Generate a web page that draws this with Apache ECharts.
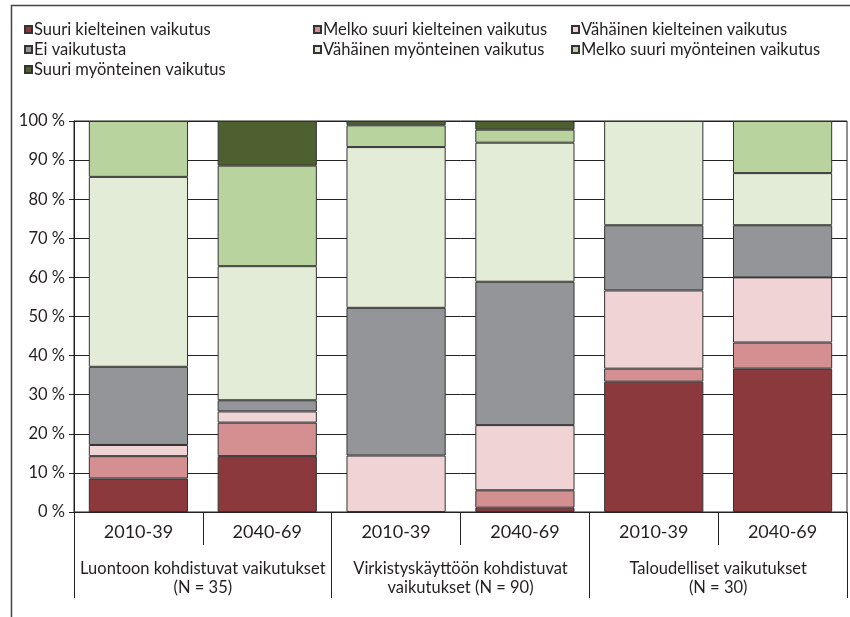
<!DOCTYPE html>
<html>
<head>
<meta charset="utf-8">
<script src="https://cdn.jsdelivr.net/npm/echarts@6/dist/echarts.min.js"></script>
<style>
  html, body { margin: 0; padding: 0; background: #fff; }
  #chart { width: 850px; height: 617px; }
</style>
</head>
<body>
<div id="chart"></div>
<script>
// periods per bar, and the three impact groups underneath
const periods = ['2010-39', '2040-69', '2010-39', '2040-69', '2010-39', '2040-69'];
const groups = [
    'Luontoon kohdistuvat vaikutukset\n(N = 35)',
    'Virkistyskäyttöön kohdistuvat\nvaikutukset (N = 90)',
    'Taloudelliset vaikutukset\n(N = 30)'
];
const yTicks = [0, 10, 20, 30, 40, 50, 60, 70, 80, 90, 100];

// shares in percent
const suuriKielteinen = [8.57, 14.29, 0, 1.11, 33.33, 36.67];
const melkoKielteinen = [5.71, 8.57, 0, 4.44, 3.33, 6.67];
const vahainenKielteinen = [2.86, 2.86, 14.44, 16.67, 20.0, 16.67];
const eiVaikutusta = [20.0, 2.86, 37.78, 36.67, 16.67, 13.33];
const vahainenMyonteinen = [48.57, 34.29, 41.11, 35.56, 26.67, 13.33];
const melkoMyonteinen = [14.29, 25.71, 5.56, 3.33, 0, 13.33];
const suuriMyonteinen = [0, 11.42, 1.11, 2.22, 0, 0];

const seriesDefs = [
    {name: 'Suuri kielteinen vaikutus', data: suuriKielteinen, color: '#8c393e'},
    {name: 'Melko suuri kielteinen vaikutus', data: melkoKielteinen, color: '#d48f90'},
    {name: 'Vähäinen kielteinen vaikutus', data: vahainenKielteinen, color: '#f0d3d4'},
    {name: 'Ei vaikutusta', data: eiVaikutusta, color: '#939598'},
    {name: 'Vähäinen myönteinen vaikutus', data: vahainenMyonteinen, color: '#e3ecd7'},
    {name: 'Melko suuri myönteinen vaikutus', data: melkoMyonteinen, color: '#b8d39d'},
    {name: 'Suuri myönteinen vaikutus', data: suuriMyonteinen, color: '#4e6030'}
];

const font = 'Lato, "Open Sans", sans-serif';
const ink = '#231f20';

const legendBase = {
    orient: 'vertical',
    top: 16,
    itemWidth: 7,
    itemHeight: 7,
    itemGap: 3,
    icon: 'rect',
    selectedMode: false,
    textStyle: {fontFamily: font, fontSize: 16.5, color: ink, lineHeight: 16, padding: [0, 0, 0, -3]}
};

const chart = echarts.init(document.getElementById('chart'));
chart.setOption({
    animation: false,
    textStyle: {fontFamily: font},
    graphic: [{
        type: 'rect',
        shape: {x: 11.5, y: 5.5, width: 900, height: 700},
        style: {fill: 'none', stroke: '#444', lineWidth: 1.5},
        silent: true
    }],
    legend: [
        Object.assign({}, legendBase, {left: 19, data: [seriesDefs[0].name, seriesDefs[3].name, seriesDefs[6].name]}),
        Object.assign({}, legendBase, {left: 308, data: [seriesDefs[1].name, seriesDefs[4].name]}),
        Object.assign({}, legendBase, {left: 566, data: [seriesDefs[2].name, seriesDefs[5].name]})
    ],
    grid: {
        left: 74, right: 3, top: 121, bottom: 105,
        show: true, borderColor: '#222', borderWidth: 1
    },
    xAxis: [{
        type: 'category',
        data: periods,
        axisLine: {lineStyle: {color: '#222', width: 1}},
        axisTick: {show: true, interval: 0, length: 33, lineStyle: {color: '#222'}},
        axisLabel: {interval: 0, fontSize: 18, color: ink, margin: 11}
    }, {
        type: 'category',
        data: groups,
        position: 'bottom',
        axisLine: {show: false},
        axisTick: {show: true, interval: 0, length: 86, lineStyle: {color: '#222'}},
        axisLabel: {interval: 0, fontSize: 16.5, color: ink, margin: 47, lineHeight: 19, align: 'center'}
    }],
    yAxis: {
        type: 'value',
        min: yTicks[0],
        max: yTicks[yTicks.length - 1],
        interval: yTicks[1] - yTicks[0],
        axisLine: {show: true, lineStyle: {color: '#222'}},
        axisTick: {show: true, length: 5, lineStyle: {color: '#222'}},
        splitLine: {lineStyle: {color: '#222', width: 1}},
        axisLabel: {formatter: '{value} %', fontSize: 16.5, color: ink, margin: 9}
    },
    series: seriesDefs.map(s => ({
        name: s.name,
        type: 'bar',
        stack: 'all',
        xAxisIndex: 0,
        barCategoryGap: '23%',
        data: s.data.map(v => v === 0 ? null : v),
        itemStyle: {color: s.color, borderColor: '#333', borderWidth: 1}
    }))
});
</script>
</body>
</html>
